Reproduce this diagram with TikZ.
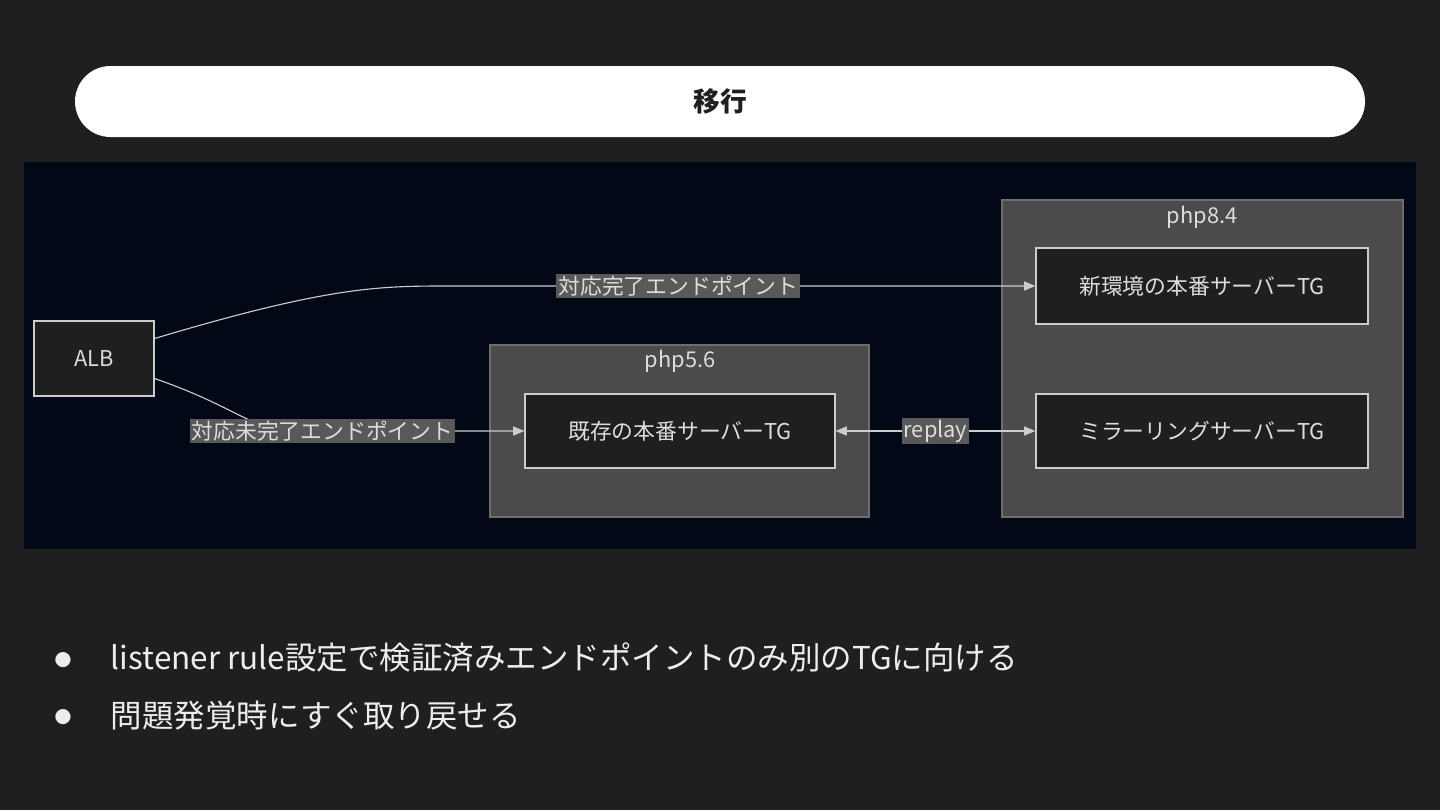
\documentclass[tikz,border=0pt]{standalone}
\usepackage{fontspec}
\setmainfont{Noto Sans CJK JP}
\usetikzlibrary{arrows.meta, positioning, calc}

\definecolor{pagebg}{HTML}{1F1F1F}
\definecolor{diagbg}{HTML}{030816}
\definecolor{groupfill}{HTML}{4A4B4A}
\definecolor{groupline}{HTML}{6E6E6E}
\definecolor{boxline}{HTML}{CCCCCC}
\definecolor{textlight}{HTML}{DDDDDD}
\definecolor{labelbg}{HTML}{595959}

\begin{document}
\begin{tikzpicture}[
    x=0.025cm, y=-0.025cm,
    tg/.style = {rectangle, draw=boxline, fill=pagebg, text=textlight, line width=0.8pt, inner sep=0pt, font=\fontsize{15.5}{18}\selectfont},
    group/.style = {rectangle, draw=groupline, fill=groupfill, line width=0.8pt},
    grouptitle/.style = {text=textlight, font=\fontsize{15.5}{18}\selectfont},
    edgelabel/.style = {fill=labelbg, text=textlight, inner sep=1.5pt, font=\fontsize{15.5}{18}\selectfont},
    flow/.style = {draw=boxline, line width=0.8pt},
    bullet/.style = {text=white!93!black, anchor=west, font=\fontsize{22.4}{26}\selectfont},
    >={Triangle[length=8pt,width=6.5pt]}]

    \useasboundingbox[fill=pagebg] (0,0) rectangle (1440,810);

    % title bar
    \node[rectangle, fill=white, rounded corners=35.5*0.025cm, minimum width=1290*0.025cm, minimum height=71*0.025cm, text=pagebg, font=\fontsize{19}{22}\selectfont\bfseries] (title) at (720,101.5) {移行};

    % diagram area
    \fill[diagbg] (24,162) rectangle (1416,549);
    \draw[group] (490,345) rectangle (869,517);
    \draw[group] (1002,200) rectangle (1403,517);
    \node[grouptitle] (php56) at (680,361) {php5.6};
    \node[grouptitle] (php84) at (1202,217) {php8.4};

    \node[tg, minimum width=3cm, minimum height=1.875cm] (alb) at (94,358.5) {ALB};
    \node[tg, minimum width=7.75cm, minimum height=1.85cm] (old) at (680,431) {既存の本番サーバーTG};
    \node[tg, minimum width=8.3cm, minimum height=1.9cm] (new) at (1202,286) {新環境の本番サーバーTG};
    \node[tg, minimum width=8.3cm, minimum height=1.85cm] (mirror) at (1202,431) {ミラーリングサーバーTG};

    \draw[flow, ->] ($(alb.east)+(0,-20)$) .. controls (330,286) and (380,286) .. (450,286)
        -- node[edgelabel, pos=0.39] (donelbl) {対応完了エンドポイント} (new.west);
    \draw[flow, ->] ($(alb.east)+(0,20)$) .. controls (240,408) and (250,431) .. (300,431)
        -- node[edgelabel, pos=0.1] (todolbl) {対応未完了エンドポイント} (old.west);
    \draw[flow, <->] (old.east) -- node[edgelabel] (replaylbl) {replay} (mirror.west);

    % notes
    \node[text=white!93!black, font=\fontsize{12}{14}\selectfont] (dot1) at (63,660) {●};
    \node[text=white!93!black, font=\fontsize{12}{14}\selectfont] (dot2) at (63,717) {●};
    \node[bullet] (note1) at (106,658) {listener rule設定で検証済みエンドポイントのみ別のTGに向ける};
    \node[bullet] (note2) at (106,716) {問題発覚時にすぐ取り戻せる};
\end{tikzpicture}
\end{document}
